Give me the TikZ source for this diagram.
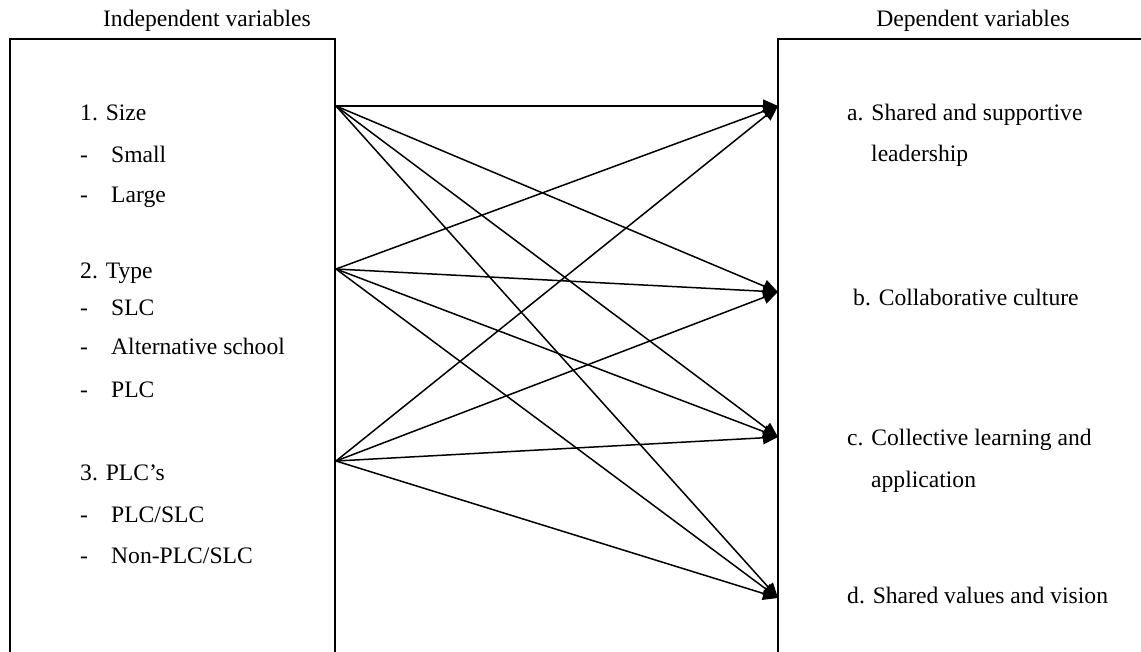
\documentclass[tikz,border=0pt]{standalone}
\usepackage{fontspec}
\setmainfont{Liberation Serif}
\usetikzlibrary{arrows.meta}
\tikzset{
  txt/.style={anchor=base west, inner sep=0pt, font=\fontsize{23.6}{28}\selectfont},
  ttl/.style={anchor=base, inner sep=0pt, font=\fontsize{23.6}{28}\selectfont},
  boxline/.style={line width=1.7pt},
  link/.style={line width=1.5pt, -{Triangle[length=15pt,width=13pt]}}
}
\begin{document}
\begin{tikzpicture}[x=1pt,y=-1pt]
\useasboundingbox (0,0) rectangle (1141,651);
\clip (0,0) rectangle (1141,651);
% titles
\node[ttl] (tin) at (207,26) {Independent variables};
\node[ttl] (tdep) at (973,26) {Dependent variables};
% boxes
\draw[boxline] (10,670) -- (10,39) -- (335,39) -- (335,670);
\draw[boxline] (778,670) -- (778,39) -- (1160,39);
% left texts
\node[txt] (l1) at (80,120) {1. Size};
\node[txt] (d1) at (80,162) {-};
\node[txt] (i1) at (111,162) {Small};
\node[txt] (d2) at (80,202) {-};
\node[txt] (i2) at (111,202) {Large};
\node[txt] (l2) at (80,278) {2. Type};
\node[txt] (d3) at (80,315) {-};
\node[txt] (i3) at (111,315) {SLC};
\node[txt] (d4) at (80,354) {-};
\node[txt] (i4) at (111,354) {Alternative school};
\node[txt] (d5) at (80,397) {-};
\node[txt] (i5) at (111,397) {PLC};
\node[txt] (l3) at (80,480) {3. PLC’s};
\node[txt] (d6) at (80,522) {-};
\node[txt] (i6) at (111,522) {PLC/SLC};
\node[txt] (d7) at (80,563) {-};
\node[txt] (i7) at (111,563) {Non-PLC/SLC};
% right texts
\node[txt] (ra) at (847,120) {a. Shared and supportive};
\node[txt] (ra2) at (871,161) {leadership};
\node[txt] (rb) at (853,305) {b. Collaborative culture};
\node[txt] (rc) at (847,445) {c. Collective learning and};
\node[txt] (rc2) at (871,487) {application};
\node[txt] (rd) at (847,603) {d. Shared values and vision};
% connection points
\coordinate (s1) at (336,106);
\coordinate (s2) at (336,269);
\coordinate (s3) at (336,461);
\coordinate (t1) at (778,106);
\coordinate (t2) at (778,292);
\coordinate (t3) at (778,437);
\coordinate (t4) at (778,598);
\foreach \s in {s1,s2,s3}{
  \foreach \t in {t1,t2,t3,t4}{
    \draw[link] (\s) -- (\t);
  }
}
\end{tikzpicture}
\end{document}
